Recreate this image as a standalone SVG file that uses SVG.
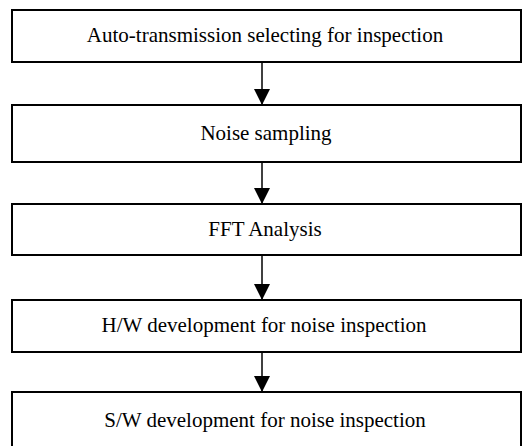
<svg xmlns="http://www.w3.org/2000/svg" width="527" height="446" viewBox="0 0 527 446">
<style>
.box{fill:#fff;stroke:#000;stroke-width:2}
.t{font-family:"Liberation Serif","Times New Roman",serif;font-size:21px;fill:#000;text-anchor:middle}
.c{stroke:#000;stroke-width:1.5;fill:none}
</style>
<defs>
<marker id="ah" markerWidth="16" markerHeight="16" refX="16" refY="8" orient="auto" markerUnits="userSpaceOnUse" viewBox="0 0 16 16">
<path d="M0,0 L16,8 L0,16 Z" fill="#000"/>
</marker>
</defs>
<rect width="527" height="446" fill="#fff"/>
<g id="connectors">
<line class="c" x1="262" y1="62" x2="262" y2="105" marker-end="url(#ah)"/>
<line class="c" x1="262" y1="162" x2="262" y2="204" marker-end="url(#ah)"/>
<line class="c" x1="262" y1="255" x2="262" y2="300" marker-end="url(#ah)"/>
<line class="c" x1="262" y1="352" x2="262" y2="392" marker-end="url(#ah)"/>
</g>
<g id="n1"><rect class="box" x="12" y="10" width="509" height="52"/><text class="t" x="265" y="42">Auto-transmission selecting for inspection</text></g>
<g id="n2"><rect class="box" x="12" y="105" width="509" height="57"/><text class="t" x="266" y="140">Noise sampling</text></g>
<g id="n3"><rect class="box" x="12" y="204" width="509" height="51"/><text class="t" x="265" y="236">FFT Analysis</text></g>
<g id="n4"><rect class="box" x="12" y="300" width="509" height="52"/><text class="t" x="264" y="332">H/W development for noise inspection</text></g>
<g id="n5"><rect class="box" x="12" y="392" width="509" height="70"/><text class="t" x="265" y="427">S/W development for noise inspection</text></g>
</svg>
